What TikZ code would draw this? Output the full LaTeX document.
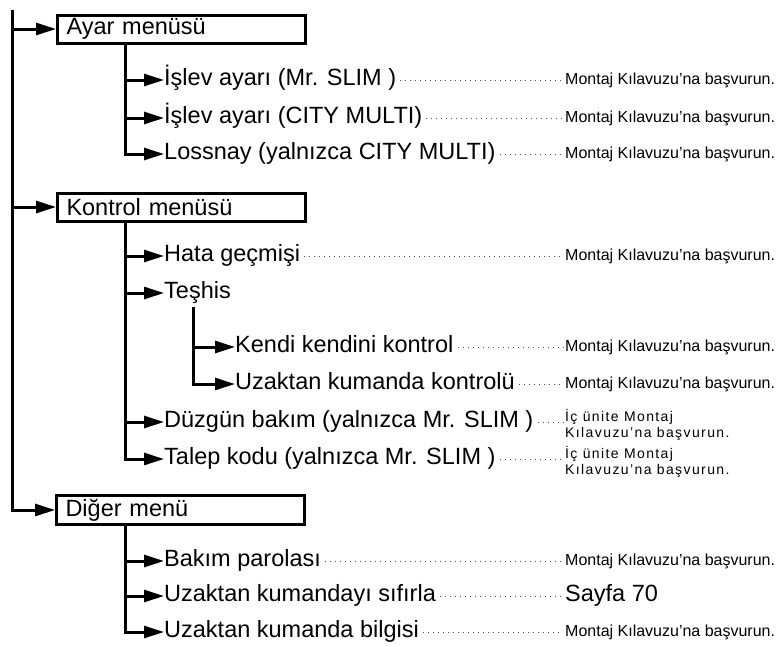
\documentclass[tikz,border=0pt]{standalone}
\usepackage{fontspec}
\setmainfont{Liberation Sans}
\usetikzlibrary{arrows.meta}

\tikzset{
  menubox/.style={draw, line width=3pt, anchor=west, minimum width=248pt, minimum height=28pt,
    text width=230pt, inner xsep=9pt, align=left, font=\fontsize{23.5}{25}\selectfont},
  item/.style={anchor=west, inner sep=0pt, text height=17pt, text depth=5.5pt, font=\fontsize{23.5}{25}\selectfont},
  note/.style={anchor=west, inner sep=0pt, text height=12pt, text depth=3.5pt, font=\fontsize{16}{18}\selectfont},
  notetwo/.style={anchor=west, inner sep=0pt, align=left,
    font=\fontsize{14}{16.5}\selectfont\addfontfeatures{LetterSpace=10}},
  arr/.style={line width=3pt, -{Triangle[length=20pt,width=12pt]}},
  leader/.style={black!70, line width=0.9pt, dash pattern=on 1pt off 4pt, shorten <=4pt, shorten >=2pt}
}

\begin{document}
\begin{tikzpicture}[x=1pt, y=-1pt]
    \useasboundingbox (0,0) rectangle (780,646);

    % Menu boxes
    \node[menubox] (ayar) at (56,29) {Ayar menüsü};
    \node[menubox] (kontrol) at (56,207) {Kontrol menüsü};
    \node[menubox] (diger) at (55,510) {Diğer menü};

    % Main trunk
    \coordinate (top) at (12,10);
    \draw[arr] (top) |- (diger.west);
    \draw[arr] (top |- ayar.west) -- (ayar.west);
    \draw[arr] (top |- kontrol.west) -- (kontrol.west);

    % Ayar menu items
    \node[item] (isl1) at (164,80) {İşlev ayarı (Mr. SLIM )};
    \node[item] (isl2) at (164,118) {İşlev ayarı (CITY MULTI)};
    \node[item] (loss) at (164,154) {Lossnay (yalnızca CITY MULTI)};
    \coordinate (ayarsub) at (125,43);
    \draw[arr] (ayarsub) |- (loss.west);
    \draw[arr] (ayarsub |- isl1.west) -- (isl1.west);
    \draw[arr] (ayarsub |- isl2.west) -- (isl2.west);

    % Kontrol menu items
    \node[item] (hata) at (164,256) {Hata geçmişi};
    \node[item] (teshis) at (164,293) {Teşhis};
    \node[item] (kendi) at (235,347) {Kendi kendini kontrol};
    \node[item] (uzk) at (235,384) {Uzaktan kumanda kontrolü};
    \node[item] (duz) at (164,422) {Düzgün bakım (yalnızca Mr. SLIM )};
    \node[item] (talep) at (164,459) {Talep kodu (yalnızca Mr. SLIM )};
    \coordinate (kontrolsub) at (125,221);
    \draw[arr] (kontrolsub) |- (talep.west);
    \draw[arr] (kontrolsub |- hata.west) -- (hata.west);
    \draw[arr] (kontrolsub |- teshis.west) -- (teshis.west);
    \draw[arr] (kontrolsub |- duz.west) -- (duz.west);
    % Teshis sub items
    \coordinate (teshissub) at (193,307);
    \draw[arr] (teshissub) |- (uzk.west);
    \draw[arr] (teshissub |- kendi.west) -- (kendi.west);

    % Diger menu items
    \node[item] (bakim) at (164,561) {Bakım parolası};
    \node[item] (sifir) at (164,596) {Uzaktan kumandayı sıfırla};
    \node[item] (bilgi) at (164,632) {Uzaktan kumanda bilgisi};
    \coordinate (digersub) at (125,524);
    \draw[arr] (digersub) |- (bilgi.west);
    \draw[arr] (digersub |- bakim.west) -- (bakim.west);
    \draw[arr] (digersub |- sifir.west) -- (sifir.west);

    % Notes
    \node[note] (n1) at (565,80) {Montaj Kılavuzu’na başvurun.};
    \node[note] (n2) at (565,118) {Montaj Kılavuzu’na başvurun.};
    \node[note] (n3) at (565,154) {Montaj Kılavuzu’na başvurun.};
    \node[note] (n4) at (565,256) {Montaj Kılavuzu’na başvurun.};
    \node[note] (n5) at (565,347) {Montaj Kılavuzu’na başvurun.};
    \node[note] (n6) at (565,384) {Montaj Kılavuzu’na başvurun.};
    \node[notetwo] (n7) at (565,425) {İç ünite Montaj\\Kılavuzu’na başvurun.};
    \node[notetwo] (n8) at (565,462) {İç ünite Montaj\\Kılavuzu’na başvurun.};
    \node[note] (n9) at (565,561) {Montaj Kılavuzu'na başvurun.};
    \node[item] (n10) at (565,596) {Sayfa 70};
    \node[note] (n11) at (565,632) {Montaj Kılavuzu'na başvurun.};

    % Dotted leaders
    \draw[leader] (isl1.east) -- (isl1.east -| n1.west);
    \draw[leader] (isl2.east) -- (isl2.east -| n2.west);
    \draw[leader] (loss.east) -- (loss.east -| n3.west);
    \draw[leader] (hata.east) -- (hata.east -| n4.west);
    \draw[leader] (kendi.east) -- (kendi.east -| n5.west);
    \draw[leader] (uzk.east) -- (uzk.east -| n6.west);
    \draw[leader] (duz.east) -- (duz.east -| n7.west);
    \draw[leader] (talep.east) -- (talep.east -| n8.west);
    \draw[leader] (bakim.east) -- (bakim.east -| n9.west);
    \draw[leader] (sifir.east) -- (sifir.east -| n10.west);
    \draw[leader] (bilgi.east) -- (bilgi.east -| n11.west);
\end{tikzpicture}
\end{document}
